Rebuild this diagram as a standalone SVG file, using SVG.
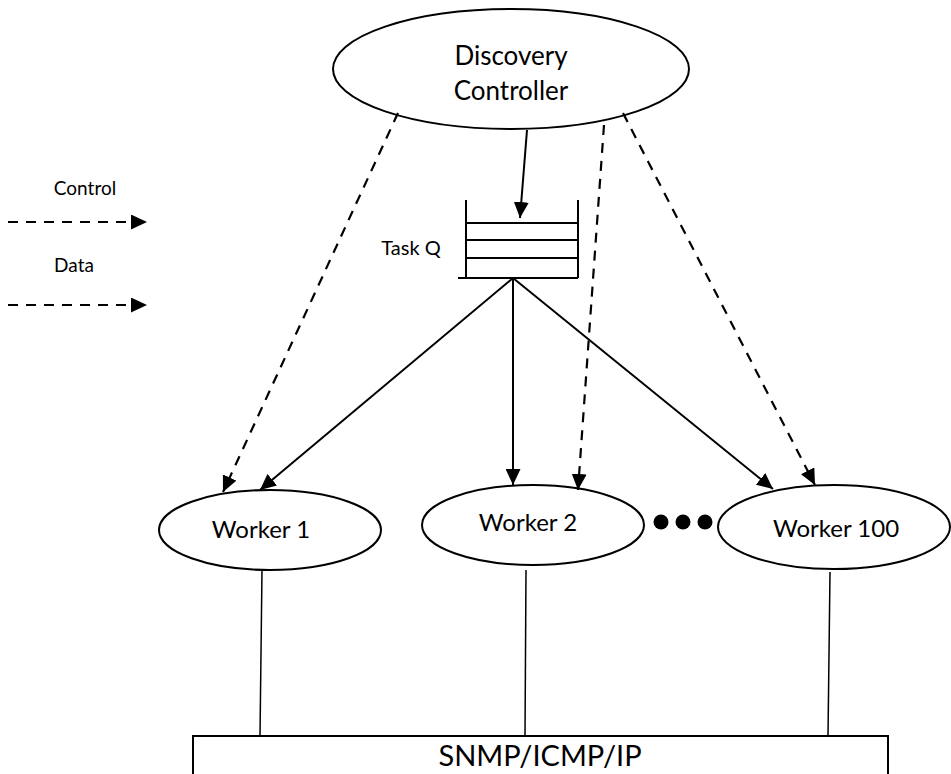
<svg xmlns="http://www.w3.org/2000/svg" width="951" height="774" viewBox="0 0 951 774">
<defs>
<marker id="ah" markerUnits="userSpaceOnUse" markerWidth="17" markerHeight="15" refX="16" refY="7.5" orient="auto" viewBox="0 0 17 15">
<path d="M0,0 L16,7.5 L0,15 z" fill="#000"/>
</marker>
</defs>
<style>
.sh{fill:#fff;stroke:#000;stroke-width:2}
.t{font-family:Lato,"Open Sans","Liberation Sans",sans-serif;fill:#000;text-anchor:middle}
.s{stroke:#000;stroke-width:2;fill:none}
.d{stroke:#000;stroke-width:2.2;fill:none;stroke-dasharray:10 8}
.v{stroke:#000;stroke-width:1.5;fill:none}
</style>
<rect width="951" height="774" fill="#fff"/>
<g id="legend">
<text class="t" x="85" y="195" font-size="19">Control</text>
<line class="d" x1="8" y1="222" x2="147" y2="222" marker-end="url(#ah)"/>
<text class="t" x="74" y="272" font-size="19">Data</text>
<line class="d" x1="8" y1="305" x2="147" y2="305" marker-end="url(#ah)"/>
</g>
<g id="controller">
<ellipse class="sh" cx="511" cy="69" rx="178" ry="60"/>
<text class="t" x="511" y="65" font-size="26">Discovery</text>
<text class="t" x="511" y="100" font-size="26">Controller</text>
</g>
<g id="taskq">
<path class="s" d="M466,200 V278 M578,200 V278 M458,278 H578 M466,223 H578 M466,240 H578 M466,258 H578"/>
<text class="t" x="411" y="255" font-size="20">Task Q</text>
</g>
<g id="worker1">
<ellipse class="sh" cx="270" cy="530" rx="111" ry="40"/>
<text class="t" x="261" y="538" font-size="24">Worker 1</text>
</g>
<g id="worker2">
<ellipse class="sh" cx="533" cy="525" rx="111" ry="40"/>
<text class="t" x="528" y="531" font-size="24">Worker 2</text>
</g>
<g id="dots">
<circle cx="661" cy="522" r="7.5"/>
<circle cx="683" cy="522" r="7.5"/>
<circle cx="705" cy="522" r="7.5"/>
</g>
<g id="worker100">
<ellipse class="sh" cx="834" cy="527" rx="116" ry="42"/>
<text class="t" x="836" y="537" font-size="24">Worker 100</text>
</g>
<g id="snmp">
<rect class="sh" x="193" y="736" width="695" height="50"/>
<text class="t" x="540" y="766" font-size="29">SNMP/ICMP/IP</text>
</g>
<g id="connectors">
<line class="s" x1="527" y1="130" x2="520" y2="218" marker-end="url(#ah)"/>
<line class="s" x1="513" y1="278" x2="260" y2="490" marker-end="url(#ah)"/>
<line class="s" x1="513" y1="278" x2="513" y2="485" marker-end="url(#ah)"/>
<line class="s" x1="513" y1="278" x2="773" y2="489" marker-end="url(#ah)"/>
<line class="d" x1="398" y1="113" x2="223" y2="492" marker-end="url(#ah)"/>
<line class="d" x1="604" y1="125" x2="578" y2="490" marker-end="url(#ah)"/>
<line class="d" x1="623" y1="113" x2="815" y2="485" marker-end="url(#ah)"/>
<line class="v" x1="262" y1="570" x2="260" y2="736"/>
<line class="v" x1="526" y1="570" x2="525" y2="736"/>
<line class="v" x1="830" y1="572" x2="828" y2="736"/>
</g>
</svg>
